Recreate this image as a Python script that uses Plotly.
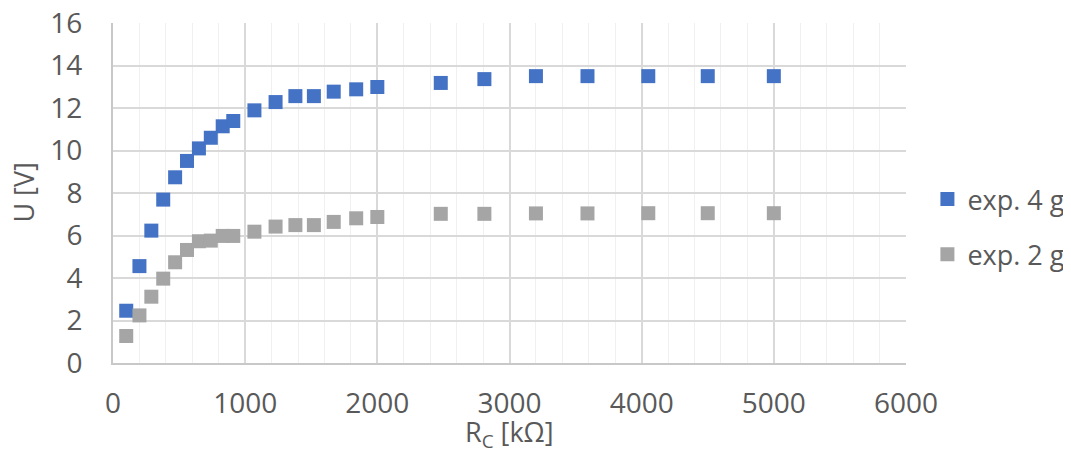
import plotly.graph_objects as go

# Data
r_c = [100, 200, 290, 380, 470, 560, 650, 740, 830, 910, 1070, 1230, 1380, 1520,
       1670, 1840, 2000, 2480, 2810, 3200, 3590, 4050, 4500, 5000]
u_4g = [2.46, 4.56, 6.23, 7.69, 8.74, 9.51, 10.1, 10.6, 11.14, 11.39, 11.89, 12.28,
        12.56, 12.56, 12.77, 12.88, 12.99, 13.18, 13.36, 13.5, 13.5, 13.5, 13.5, 13.5]
u_2g = [1.27, 2.24, 3.12, 3.97, 4.74, 5.32, 5.73, 5.76, 5.98, 5.98, 6.18, 6.42,
        6.49, 6.49, 6.64, 6.81, 6.87, 7.02, 7.02, 7.04, 7.04, 7.05, 7.05, 7.05]
series_names = ["exp. 4 g", "exp. 2 g"]
x_ticks = [0, 1000, 2000, 3000, 4000, 5000, 6000]
y_ticks = [0, 2, 4, 6, 8, 10, 12, 14, 16]
x_title = "R<sub>C</sub> [kΩ]"
y_title = "U [V]"

FONT = "Open Sans"
TXT = "#595959"

fig = go.Figure()
fig.add_trace(go.Scatter(x=r_c, y=u_4g, mode="markers", name=series_names[0],
                         legendgroup="a",
                         marker=dict(symbol="square", size=14, color="#4472C4")))
fig.add_trace(go.Scatter(x=r_c, y=u_2g, mode="markers", name=series_names[1],
                         legendgroup="b",
                         marker=dict(symbol="square", size=14, color="#A5A5A5")))

fig.update_layout(
    width=1100, height=442,
    margin=dict(l=105, r=202, t=15, b=87, autoexpand=False),
    paper_bgcolor="white", plot_bgcolor="white",
    font=dict(family=FONT, color=TXT, size=27),
    legend=dict(x=1.027, y=0.40, yanchor="middle", xanchor="left",
                font=dict(size=27, color=TXT), tracegroupgap=17,
                traceorder="grouped", itemwidth=30),
    showlegend=True,
)
fig.update_xaxes(
    range=[0, 6000], tickvals=x_ticks, ticktext=[str(v) for v in x_ticks],
    showgrid=True, gridcolor="#D9D9D9", gridwidth=1.5,
    minor=dict(dtick=200, showgrid=True, gridcolor="#F0F0F0", gridwidth=1),
    showline=True, linecolor="#C8C8C8", linewidth=2,
    zeroline=False, ticks="", tickfont=dict(size=28, color=TXT),
    ticklabelstandoff=14, automargin=False, ticklabeloverflow="allow",
)
fig.update_yaxes(
    range=[0, 16.001], tickvals=y_ticks, ticktext=[str(v) for v in y_ticks],
    showgrid=True, gridcolor="#D9D9D9", gridwidth=1.5,
    showline=True, linecolor="#C8C8C8", linewidth=2,
    zeroline=False, ticks="", tickfont=dict(size=28, color=TXT),
    ticklabelstandoff=23, automargin=False, ticklabeloverflow="allow",
)
fig.add_annotation(text=x_title, xref="paper", yref="paper", x=0.5, y=-0.14,
                   xanchor="center", yanchor="top", showarrow=False,
                   font=dict(size=27, color=TXT))
fig.add_annotation(text=y_title, xref="paper", yref="paper", x=-0.114, y=0.5,
                   xanchor="center", yanchor="middle", showarrow=False, textangle=-90,
                   font=dict(size=27, color=TXT))

fig.write_html("out.html")
